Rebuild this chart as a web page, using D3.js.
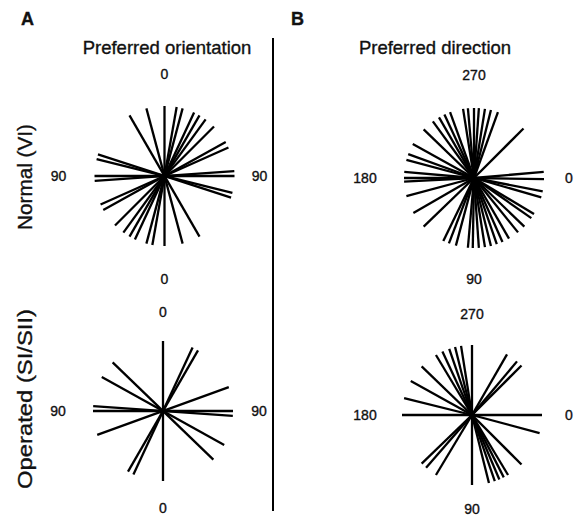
<!DOCTYPE html>
<html>
<head>
<meta charset="utf-8">
<script src="https://cdn.jsdelivr.net/npm/d3@7"></script>
<style>
  body { margin: 0; background: #fff; }
  text { font-family: "Liberation Sans", Arial, Helvetica, sans-serif; fill: #111; stroke: #111; stroke-width: 0.35px; }
</style>
</head>
<body>
<div id="viz"></div>
<script>
// preferred orientation (deg, 0 = vertical, clockwise), one line per cell
var orientNormal = [0, 10, 15, 25, 30, 36, 45, 61, 66, 86, 90, 104, 108, 150, 165];
var orientOperated = [0, 25, 30, 70, 90, 94, 119, 134];
// preferred direction (deg, 0 = right, 90 = down)
var dirNormal = [1, 11, 16, 31, 35, 44, 51, 60, 66, 71, 76, 81, 86, 91, 95, 105, 111, 116,
                 136, 150, 165, 177, 180, 185, 195, 200, 209, 224, 234, 240, 245, 250,
                 261, 265, 270, 274, 279, 284, 290, 315, 355];
var dirOperated = [0, 15, 45, 59, 63, 67, 71, 76, 90, 121, 131, 136, 180, 194, 209, 224,
                   239, 245, 251, 256, 261, 270, 300, 310, 315];

var orientTicks = ['0', '90', '0', '90'];      // top, right, bottom, left
var dirTicks = ['270', '0', '90', '180'];
var rowLabels = ['Normal (VI)', 'Operated (SI/SII)'];
var colTitles = ['Preferred orientation', 'Preferred direction'];
var panelLetters = ['A', 'B'];

var width = 584, height = 518;
var svg = d3.select('#viz').append('svg')
  .attr('width', width)
  .attr('height', height);

var rScale = d3.scaleLinear().domain([0, 1]).range([0, 70]);
var orientAngle = d3.scaleLinear().domain([0, 180]).range([0, Math.PI]);
var dirAngle = d3.scaleLinear().domain([0, 360]).range([Math.PI / 2, Math.PI / 2 + 2 * Math.PI]);

// tick label offsets: top, right, bottom, left
var panels = [
  { cx: 164.5, cy: 176, data: orientNormal, kind: 'orient', ticks: orientTicks,
    off: [[0, -102], [95, 0], [0, 103], [-106, 0]] },
  { cx: 163, cy: 411, data: orientOperated, kind: 'orient', ticks: orientTicks,
    off: [[0, -99], [96, 0], [0, 97], [-105, 0]] },
  { cx: 474, cy: 178, data: dirNormal, kind: 'dir', ticks: dirTicks,
    off: [[0, -103], [95, 0], [0, 101], [-109, 0]] },
  { cx: 472, cy: 415, data: dirOperated, kind: 'dir', ticks: dirTicks,
    off: [[0, -101], [97, 0], [0, 94], [-107, 0]] }
];

function endA(p, d) {
  return p.kind === 'orient' ? d3.pointRadial(orientAngle(d) + Math.PI, rScale(1)) : [0, 0];
}
function endB(p, d) {
  return p.kind === 'orient' ? d3.pointRadial(orientAngle(d), rScale(1))
                             : d3.pointRadial(dirAngle(d), rScale(1));
}

panels.forEach(function(p) {
  var g = svg.append('g')
    .attr('transform', 'translate(' + p.cx + ',' + p.cy + ')');

  g.selectAll('line').data(p.data)
    .enter().append('line')
      .attr('x1', function(d) { return endA(p, d)[0]; })
      .attr('y1', function(d) { return endA(p, d)[1]; })
      .attr('x2', function(d) { return endB(p, d)[0]; })
      .attr('y2', function(d) { return endB(p, d)[1]; })
      .attr('stroke', '#000')
      .attr('stroke-width', 2.3);

  g.selectAll('text.tick').data(p.ticks)
    .enter().append('text')
      .attr('class', 'tick')
      .attr('x', function(d, i) { return p.off[i][0]; })
      .attr('y', function(d, i) { return p.off[i][1]; })
      .attr('dy', '0.35em')
      .attr('text-anchor', 'middle')
      .style('font-size', '14px')
      .text(function(d) { return d; });
});

// column titles + panel letters
svg.selectAll('text.title').data(colTitles)
  .enter().append('text')
    .attr('class', 'title')
    .attr('x', function(d, i) { return [167, 435][i]; })
    .attr('y', 54)
    .attr('text-anchor', 'middle')
    .style('font-size', '18.5px')
    .text(function(d) { return d; });

svg.selectAll('text.letter').data(panelLetters)
  .enter().append('text')
    .attr('class', 'letter')
    .attr('x', function(d, i) { return [21, 291][i]; })
    .attr('y', 25)
    .style('font-size', '18px')
    .style('font-weight', 'bold')
    .text(function(d) { return d; });

// row labels, rotated
svg.selectAll('text.row').data(rowLabels)
  .enter().append('text')
    .attr('class', 'row')
    .attr('transform', function(d, i) {
      return 'translate(32,' + [177, 399][i] + ') rotate(-90)';
    })
    .attr('text-anchor', 'middle')
    .attr('textLength', function(d, i) { return [106, 180][i]; })
    .attr('lengthAdjust', 'spacingAndGlyphs')
    .style('font-size', '21px')
    .text(function(d) { return d; });

// divider
svg.append('line')
  .attr('x1', 273).attr('x2', 273)
  .attr('y1', 38).attr('y2', 511)
  .attr('stroke', '#000')
  .attr('stroke-width', 2);
</script>
</body>
</html>
